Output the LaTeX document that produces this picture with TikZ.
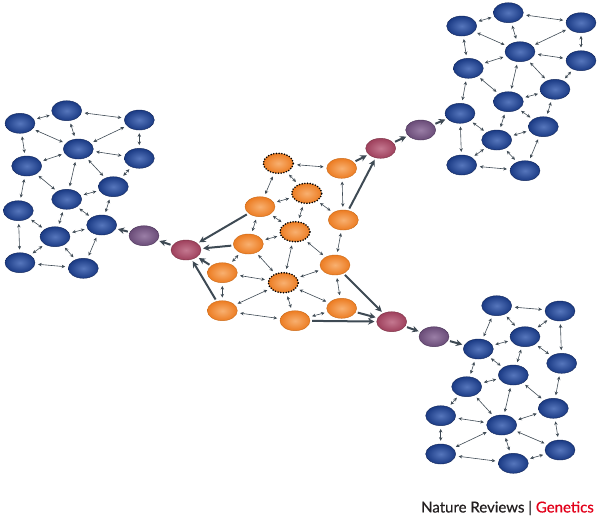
\documentclass[tikz,border=0pt]{standalone}
\usepackage{fontspec}
\setmainfont{Lato}
\newfontfamily\capfont[FakeBold=0.6]{Lato}
\usetikzlibrary{shapes.geometric,arrows.meta}
\definecolor{edgec}{HTML}{3E4A54}
\definecolor{bluein}{HTML}{5676BC}
\definecolor{blueout}{HTML}{1A3A84}
\definecolor{blueedge}{HTML}{14285A}
\definecolor{orangein}{HTML}{F8B070}
\definecolor{orangeout}{HTML}{EC7C22}
\definecolor{orangeedge}{HTML}{C86A1A}
\definecolor{pinkin}{HTML}{C47890}
\definecolor{pinkout}{HTML}{9E405C}
\definecolor{pinkedge}{HTML}{7A3244}
\definecolor{purpin}{HTML}{9A7EA6}
\definecolor{purpout}{HTML}{6A4C78}
\definecolor{purpedge}{HTML}{4A3458}
\definecolor{natred}{HTML}{E2001A}
\definecolor{natgray}{HTML}{231F20}
\tikzset{
  nd/.style={ellipse, minimum width=30pt, minimum height=20pt, inner sep=0pt, line width=0.4pt, shading=radial},
  bnode/.style={nd, draw=blueedge, inner color=bluein, outer color=blueout},
  onode/.style={nd, draw=orangeedge, inner color=orangein, outer color=orangeout},
  dnode/.style={nd, draw=black, inner color=orangein, outer color=orangeout, line width=1.8pt, line cap=round, dash pattern=on 0pt off 2.7pt},
  pnode/.style={nd, draw=pinkedge, inner color=pinkin, outer color=pinkout},
  vnode/.style={nd, draw=purpedge, inner color=purpin, outer color=purpout},
  link/.style={draw=edgec, line width=0.6pt, {Stealth[length=3.6pt,width=3.4pt]}-{Stealth[length=3.6pt,width=3.4pt]}, shorten <=3pt, shorten >=3pt},
  flow/.style={draw=edgec, line width=2pt, -{Stealth[length=6.5pt,width=6.5pt]}, shorten <=2pt, shorten >=2pt}
}
\begin{document}
\begin{tikzpicture}[x=1pt,y=-1pt]
\useasboundingbox (0,0) rectangle (600,523);
% ---- orange cluster
\node[dnode] (O1) at (278.3,163.3) {};
\node[onode] (O2) at (341.7,168.3) {};
\node[dnode] (O3) at (306.7,193.3) {};
\node[onode] (O4) at (260,206.7) {};
\node[onode] (O5) at (343.3,220) {};
\node[dnode] (O6) at (295,231.7) {};
\node[onode] (O7) at (248.3,244) {};
\node[onode] (O8) at (335,265) {};
\node[onode] (O9) at (222.3,272.7) {};
\node[dnode] (O10) at (283.3,282.7) {};
\node[onode] (O11) at (222.3,310.7) {};
\node[onode] (O12) at (341.7,308.3) {};
\node[onode] (O13) at (295,320.7) {};
% ---- pink / purple
\node[pnode] (LP) at (186,250) {};
\node[vnode] (LV) at (144,235.7) {};
\node[pnode] (TP) at (380.7,148.3) {};
\node[vnode] (TV) at (420.7,130) {};
\node[pnode] (BP) at (391.7,321.7) {};
\node[vnode] (BV) at (434,336.7) {};
% ---- left cluster
\node[bnode] (L1) at (20,123.3) {};
\node[bnode] (L2) at (66.7,110.7) {};
\node[bnode] (L3) at (139.3,120) {};
\node[bnode] (L4) at (78.3,149) {};
\node[bnode] (L5) at (139.3,158.3) {};
\node[bnode] (L6) at (26.7,166) {};
\node[bnode] (L7) at (113.3,186.7) {};
\node[bnode] (L8) at (66.7,199.3) {};
\node[bnode] (L9) at (18.3,210.7) {};
\node[bnode] (L10) at (101.7,225) {};
\node[bnode] (L11) at (55,236.7) {};
\node[bnode] (L12) at (20,262.7) {};
\node[bnode] (L13) at (83.3,268.3) {};
% ---- top right cluster
\node[bnode] (T1) at (461.7,26) {};
\node[bnode] (T2) at (508.3,12.7) {};
\node[bnode] (T3) at (581,22.7) {};
\node[bnode] (T4) at (520,51.7) {};
\node[bnode] (T5) at (581,60.7) {};
\node[bnode] (T6) at (468.3,68.3) {};
\node[bnode] (T7) at (555,89.3) {};
\node[bnode] (T8) at (508.3,101.7) {};
\node[bnode] (T9) at (460,113.3) {};
\node[bnode] (T10) at (543.3,126.7) {};
\node[bnode] (T11) at (496.7,140) {};
\node[bnode] (T12) at (461.7,165) {};
\node[bnode] (T13) at (525,170.7) {};
% ---- bottom right cluster
\node[bnode] (B1) at (496.7,305.7) {};
\node[bnode] (B2) at (560,311) {};
\node[bnode] (B3) at (525,336.7) {};
\node[bnode] (B4) at (478.3,349) {};
\node[bnode] (B5) at (561.7,363.3) {};
\node[bnode] (B6) at (513.3,375) {};
\node[bnode] (B7) at (466.7,386.7) {};
\node[bnode] (B8) at (553.3,408.3) {};
\node[bnode] (B9) at (440.7,415.7) {};
\node[bnode] (B10) at (501.7,425) {};
\node[bnode] (B11) at (560,450) {};
\node[bnode] (B12) at (440.7,454) {};
\node[bnode] (B13) at (513.3,463.3) {};
% ---- orange links
\foreach \a/\b in {O1/O2,O1/O3,O1/O4,O2/O5,O3/O5,O3/O4,O3/O6,O4/O6,O4/O7,O6/O7,O6/O10,O6/O8,O5/O8,O7/O9,O7/O10,O9/O10,O8/O10,O9/O11,O10/O11,O10/O13,O10/O12,O11/O13,O8/O12,O13/O12}
  \draw[link] (\a) -- (\b);
% ---- left links
\foreach \a/\b in {L1/L2,L2/L3,L1/L4,L2/L4,L3/L4,L1/L6,L4/L6,L4/L5,L3/L5,L4/L7,L5/L7,L4/L8,L6/L8,L6/L9,L8/L7,L7/L10,L8/L10,L8/L11,L9/L11,L10/L11,L9/L12,L11/L12,L11/L13,L10/L13,L12/L13}
  \draw[link] (\a) -- (\b);
% ---- top right links
\foreach \a/\b in {T1/T2,T2/T3,T1/T4,T2/T4,T3/T4,T1/T6,T4/T6,T4/T5,T3/T5,T4/T8,T4/T7,T5/T7,T6/T8,T7/T8,T6/T9,T8/T10,T7/T10,T8/T11,T9/T11,T10/T11,T9/T12,T11/T12,T11/T13,T10/T13,T12/T13}
  \draw[link] (\a) -- (\b);
% ---- bottom right links
\foreach \a/\b in {B1/B2,B1/B3,B2/B3,B2/B5,B1/B4,B3/B4,B3/B5,B3/B6,B4/B6,B4/B7,B6/B7,B5/B8,B6/B8,B6/B10,B7/B10,B7/B9,B9/B10,B10/B8,B9/B12,B10/B12,B10/B13,B10/B11,B8/B11,B12/B13,B13/B11}
  \draw[link] (\a) -- (\b);
% ---- flows
\draw[flow] (O4) -- (LP);
\draw[flow] (O7) -- (LP);
\draw[flow] (O9) -- (LP);
\draw[flow] (O11) -- (LP);
\draw[flow] (LP) -- (LV);
\draw[flow] (LV) -- (L10);
\draw[flow] (O5) -- (TP);
\draw[flow] (O2) -- (TP);
\draw[flow] (TP) -- (TV);
\draw[flow] (TV) -- (T9);
\draw[flow] (O8) -- (BP);
\draw[flow] (O12) -- (BP);
\draw[flow] (O13) -- (BP);
\draw[flow] (BP) -- (BV);
\draw[flow] (BV) -- (B4);
% ---- caption
\node[anchor=east, inner sep=0pt, text=natgray] (cap) at (594,508) {\capfont\fontsize{15}{15}\selectfont Nature Reviews | \textcolor{natred}{Genetics}};
\end{tikzpicture}
\end{document}
